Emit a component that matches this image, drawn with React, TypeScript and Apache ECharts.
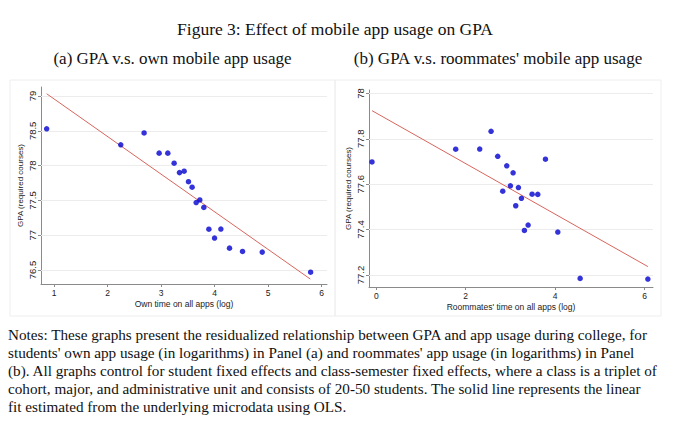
import { useEffect, useRef } from "react";
import * as echarts from "echarts";

// panel (a): own app usage
const ownX = [0.863, 2.247, 2.683, 2.964, 3.126, 3.244, 3.344, 3.431, 3.512, 3.58, 3.724, 3.656, 3.799, 3.893, 4.117, 3.999, 4.279, 4.522, 4.89, 5.794];
const ownY = [78.53, 78.3, 78.47, 78.18, 78.18, 78.036, 77.9, 77.92, 77.77, 77.69, 77.507, 77.47, 77.4, 77.087, 77.09, 76.96, 76.815, 76.767, 76.758, 76.47];
const ownFitX = [0.863, 5.788];
const ownFitY = [79.033, 76.371];
const ownXTicks = [1, 2, 3, 4, 5, 6];
const ownYTicks = [76.5, 77, 77.5, 78, 78.5, 79];

// panel (b): roommates' app usage
const roomX = [-0.097, 1.776, 2.313, 2.567, 2.716, 2.918, 3.06, 3.0, 3.179, 2.828, 3.246, 3.485, 3.612, 3.119, 3.784, 3.396, 3.313, 4.06, 4.56, 6.075];
const roomY = [77.698, 77.754, 77.755, 77.833, 77.723, 77.681, 77.65, 77.593, 77.585, 77.569, 77.538, 77.556, 77.555, 77.505, 77.71, 77.42, 77.396, 77.389, 77.185, 77.182];
const roomFitX = [-0.097, 6.075];
const roomFitY = [77.924, 77.237];
const roomXTicks = [0, 2, 4, 6];
const roomYTicks = [77.2, 77.4, 77.6, 77.8, 78];

const notes = [
  "Notes: These graphs present the residualized relationship between GPA and app usage during college, for",
  "students' own app usage (in logarithms) in Panel (a) and roommates' app usage (in logarithms) in Panel",
  "(b). All graphs control for student fixed effects and class-semester fixed effects, where a class is a triplet of",
  "cohort, major, and administrative unit and consists of 20-50 students. The solid line represents the linear",
  "fit estimated from the underlying microdata using OLS.",
];

const SANS = "'Liberation Sans', Arial, sans-serif";
const SERIF = "'Liberation Serif', 'Times New Roman', serif";
const DOT = "#0000d0";
const FIT = "#d9655c";
const AXIS = "#8a8a8a";

function xAxisOf(gridIndex: number, min: number, max: number, ticks: number[], name: string) {
  return {
    type: "value",
    gridIndex,
    min,
    max,
    name,
    nameLocation: "middle",
    nameGap: 15,
    nameTextStyle: { fontFamily: SANS, fontSize: 8.5, color: "#222" },
    axisLine: { onZero: false, lineStyle: { color: AXIS, width: 1 } },
    axisTick: { customValues: ticks, length: 3, lineStyle: { color: AXIS } },
    axisLabel: { customValues: ticks, fontFamily: SANS, fontSize: 8.5, color: "#222", margin: 4 },
    splitLine: { show: false },
  };
}

function yAxisOf(gridIndex: number, min: number, max: number, ticks: number[]) {
  return {
    type: "value",
    gridIndex,
    min,
    max,
    name: "GPA (required courses)",
    nameLocation: "middle",
    nameGap: 17,
    nameTextStyle: { fontFamily: SANS, fontSize: 8, color: "#222" },
    axisLine: { show: true, onZero: false, lineStyle: { color: AXIS, width: 1 } },
    axisTick: { show: true, customValues: ticks, length: 3, lineStyle: { color: AXIS } },
    axisLabel: {
      customValues: ticks,
      rotate: 90,
      fontFamily: SANS,
      fontSize: 9.5,
      color: "#222",
      margin: 4,
    },
    splitLine: { show: false },
  };
}

function panelSeries(idx: number, xs: number[], ys: number[], fx: number[], fy: number[], yTicks: number[]) {
  return [
    {
      type: "line",
      xAxisIndex: idx,
      yAxisIndex: idx,
      data: fx.map((x, i) => [x, fy[i]]),
      showSymbol: false,
      lineStyle: { color: FIT, width: 1 },
      z: 3,
      markLine: {
        silent: true,
        symbol: "none",
        label: { show: false },
        lineStyle: { color: "#ececec", width: 1, type: "solid" },
        data: yTicks.map((v) => ({ yAxis: v })),
        z: 1,
      },
    },
    {
      type: "scatter",
      xAxisIndex: idx,
      yAxisIndex: idx,
      data: xs.map((x, i) => [x, ys[i]]),
      symbolSize: 5.5,
      itemStyle: { color: DOT },
      z: 4,
    },
  ];
}

export default function App() {
  const ref = useRef<HTMLDivElement>(null);

  useEffect(() => {
    if (!ref.current) return;
    const chart = echarts.init(ref.current, null, { renderer: "svg" });

    chart.setOption({
      animation: false,
      backgroundColor: "#fff",
      grid: [
        { left: 41, top: 87, width: 286, height: 197 },
        { left: 369, top: 90, width: 284, height: 197 },
      ],
      xAxis: [
        xAxisOf(0, 0.757, 6.1, ownXTicks, "Own time on all apps (log)"),
        xAxisOf(1, -0.164, 6.19, roomXTicks, "Roommates' time on all apps (log)"),
      ],
      yAxis: [yAxisOf(0, 76.3, 79.13, ownYTicks), yAxisOf(1, 77.147, 78.015, roomYTicks)],
      series: [
        ...panelSeries(0, ownX, ownY, ownFitX, ownFitY, ownYTicks),
        ...panelSeries(1, roomX, roomY, roomFitX, roomFitY, roomYTicks),
      ],
      graphic: [
        {
          type: "rect",
          shape: { x: 10, y: 80, width: 325, height: 236 },
          style: { fill: "none", stroke: "#eeeeee", lineWidth: 1 },
          silent: true,
        },
        {
          type: "rect",
          shape: { x: 335, y: 80, width: 326, height: 236 },
          style: { fill: "none", stroke: "#eeeeee", lineWidth: 1 },
          silent: true,
        },
        {
          type: "text",
          x: 335,
          y: 19.5,
          style: {
            text: "Figure 3: Effect of mobile app usage on GPA",
            font: `17.5px ${SERIF}`,
            fill: "#111",
            textAlign: "center",
          },
        },
        {
          type: "text",
          x: 172.5,
          y: 50,
          style: {
            text: "(a) GPA v.s. own mobile app usage",
            font: `17px ${SERIF}`,
            fill: "#111",
            textAlign: "center",
          },
        },
        {
          type: "text",
          x: 498,
          y: 50,
          style: {
            text: "(b) GPA v.s. roommates' mobile app usage",
            font: `17px ${SERIF}`,
            fill: "#111",
            textAlign: "center",
          },
        },
        ...notes.map((line, i) => ({
          type: "text",
          x: 8,
          y: 327 + i * 18,
          style: { text: line, font: `15.2px ${SERIF}`, fill: "#111" },
        })),
      ],
    });

    return () => {
      chart.dispose();
    };
  }, []);

  return (
    <div
      ref={ref}
      style={{ position: "absolute", left: 0, top: 0, width: "680px", height: "428px" }}
    />
  );
}
